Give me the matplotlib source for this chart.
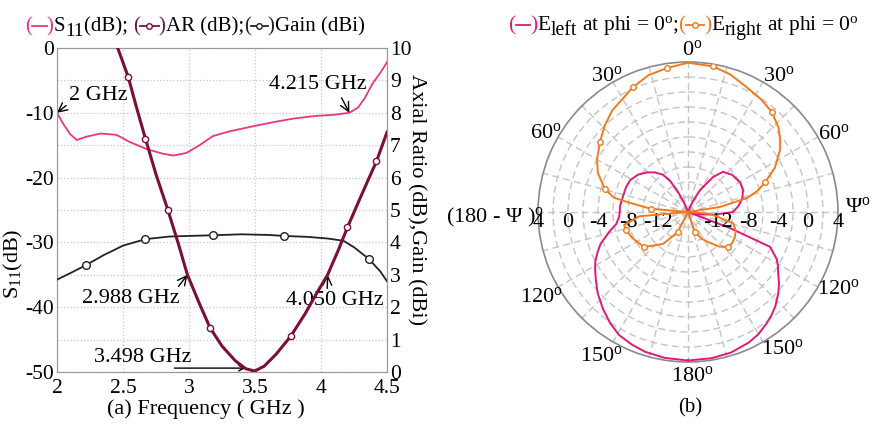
import numpy as np
import matplotlib
matplotlib.use("Agg")
import matplotlib.pyplot as plt
from matplotlib.lines import Line2D
from matplotlib.transforms import offset_copy

plt.rcParams['font.family'] = ['Liberation Serif', 'DejaVu Serif']
plt.rcParams['mathtext.fontset'] = 'custom'
plt.rcParams['mathtext.rm'] = 'Liberation Serif'
plt.rcParams['mathtext.it'] = 'Liberation Serif:italic'
plt.rcParams['axes.unicode_minus'] = False

# ---- (a) S11 / AR / gain versus frequency ----
f_s11 = [2.0, 2.05, 2.1, 2.15, 2.22, 2.33, 2.45, 2.55, 2.68, 2.8, 2.88, 2.98, 3.08,
         3.18, 3.3, 3.48, 3.65, 3.79, 3.95, 4.1, 4.215, 4.28, 4.33, 4.39, 4.45, 4.5]
s11 = [-10.0, -11.8, -13.3, -14.2, -13.7, -13.2, -13.4, -14.5, -15.6, -16.3, -16.6, -16.2, -15.0,
       -13.6, -12.9, -12.1, -11.4, -10.9, -10.5, -10.3, -10.0, -9.2, -7.8, -5.5, -3.8, -2.2]

f_ar = [2.40, 2.46, 2.54, 2.60, 2.67, 2.75, 2.84, 2.92, 2.988, 3.08, 3.16, 3.25, 3.35,
        3.43, 3.498, 3.57, 3.66, 3.77, 3.88, 3.97, 4.05, 4.13, 4.20, 4.30, 4.42, 4.50]
ar = [10.7, 10.0, 9.1, 8.2, 7.2, 6.1, 5.0, 3.95, 3.0, 2.1, 1.36, 0.8, 0.35,
      0.1, 0.03, 0.18, 0.55, 1.1, 1.8, 2.45, 3.0, 3.75, 4.46, 5.4, 6.5, 7.4]
ar_marks = [2.54, 2.67, 2.84, 3.16, 3.77, 4.20, 4.42]

f_gain = [2.0, 2.1, 2.22, 2.35, 2.5, 2.67, 2.85, 3.0, 3.18, 3.4, 3.6, 3.72, 3.9,
          4.05, 4.17, 4.25, 4.36, 4.45, 4.5]
gain = [2.85, 3.05, 3.3, 3.6, 3.9, 4.1, 4.18, 4.2, 4.22, 4.25, 4.23, 4.2, 4.17,
        4.12, 4.05, 3.85, 3.5, 3.1, 2.8]
gain_marks = [2.22, 2.67, 3.18, 3.72, 4.36]

# ---- (b) radiation patterns at phi = 0 (theta clockwise from top, dB) ----
th_left = [-180, -171, -163, -157, -150.7, -145, -138.8, -132, -126, -122, -118, -114, -110, -104,
           -99.5, -94, -90, -85, -75, -68, -61, -53, -46, -40, -34, -30, -27, -23, -20,
           0, 20, 24, 28.6, 35.5, 41, 50, 61, 68, 75.5, 83, 90, 96, 101, 106, 111, 113,
           118, 121, 124, 128, 132, 137, 141, 145, 150, 155, 163, 171, 180]
e_left = [3.8, 3.7, 3.5, 3.2, 2.8, 2.1, 1.2, 0.2, -0.8, -1.4, -2.0, -2.8, -3.6, -5.2,
          -6.3, -6.8, -6.9, -6.9, -7.1, -7.1, -7.2, -7.7, -8.4, -9.1, -10.0, -11.2, -12.7, -14.5, -16,
          -16, -16, -14.5, -12.7, -10.3, -8.9, -8.3, -8.0, -8.1, -8.5, -9.2, -10.0, -12.5, -14.5, -16, -10.0, -4.1,
          -2.6, -2.0, -1.5, -0.6, 0.2, 1.1, 1.7, 2.2, 2.8, 3.2, 3.6, 3.75, 3.8]

th_right = [-180, -165, -153, -142, -128.5, -115, -106, -101.5, -95, -88, -85, -81, -79, -74.5,
            -66.6, -60, -51.5, -44, -36.7, -23.7, -16, -8.3, 0, 9.7, 17, 25, 33, 40, 47, 52,
            56, 63, 69, 73, 76.7, 81, 86, 95, 104, 111, 118, 125, 131, 138, 145, 153, 161, 170, 180]
e_right = [-16, -16, -13.0, -10.6, -8.5, -7.8, -7.4, -7.3, -9.5, -16, -11, -8.1, -5.9, -4.5,
           -2.9, -2.0, -1.0, 0.0, 0.9, 2.2, 3.0, 3.4, 3.9, 3.7, 3.2, 2.4, 1.9, 1.4, 0.5, -0.4,
           -1.2, -3.0, -5.0, -6.3, -7.9, -11.7, -16, -13, -9.8, -9.2, -8.9, -8.8, -8.9, -9.8, -11, -12.0, -13.2, -16, -16]
right_marks = [-153, -128.5, -106, -85, -74.5, -51.5, -23.7, -8.3, 9.7, 40, 69, 131, 161]

W, H = 878, 424
c_s11 = '#e8387e'
c_ar = '#7a0f3e'
c_gain = '#222222'
c_left = '#e0187a'
c_right = '#f07a1c'
FS = 15.5


def fx(px):
    return px / W


def fy(py):
    return 1 - py / H


def legend_row(fig, x, y, parts, size):
    # lay out "(line)label" pieces one after the other along a baseline
    rend = fig.canvas.get_renderer()
    for part in parts:
        kind, val, col = part[:3]
        if kind in ('t', 's'):
            yy, sz = (y + 5, size * 0.92) if kind == 's' else (y, size)
            t = fig.text(fx(x), fy(yy), val, color=col, fontsize=sz, ha='left', va='baseline')
            x += t.get_window_extent(rend).width
        else:
            w = part[3]
            ln = Line2D([fx(x), fx(x + w / 2), fx(x + w)], [fy(y - 5)] * 3,
                        transform=fig.transFigure, color=col, lw=1.3,
                        marker=val, markevery=[1], markersize=4,
                        markerfacecolor='white', markeredgecolor=col)
            fig.add_artist(ln)
            x += w


fig = plt.figure(figsize=(W / 100, H / 100), dpi=100)

ax = fig.add_axes([fx(57), fy(372), fx(387) - fx(57), fy(48) - fy(372)])
ax2 = ax.twinx()

ax.plot(f_s11, s11, color=c_s11, lw=1.3, zorder=3)
ax2.plot(f_ar, ar, color=c_ar, lw=2.2, marker='o', markersize=4.5,
         markerfacecolor='white', markeredgecolor=c_ar, markeredgewidth=1.0,
         markevery=[f_ar.index(v) for v in ar_marks], zorder=4)
ax2.plot(f_gain, gain, color=c_gain, lw=1.3, marker='o', markersize=5.5,
         markerfacecolor='white', markeredgecolor=c_gain, markeredgewidth=1.0,
         markevery=[f_gain.index(v) for v in gain_marks], zorder=3)

ax.set_xlim(2, 4.5)
ax.set_ylim(-50, 0)
ax2.set_ylim(0, 10)
ax.set_xticks([2, 2.5, 3, 3.5, 4, 4.5])
ax.set_xticklabels(['2', '2.5', '3', '3.5', '4', '4.5'])
ax.set_yticks(np.arange(-50, 1, 10))
ax.set_yticks(np.arange(-45, 0, 10), minor=True)
ax2.set_yticks(np.arange(0, 11, 1))
ax.grid(True, which='both', color='#c8c8c8', linestyle=':', lw=0.9)
ax.tick_params(which='both', length=0, labelsize=FS, pad=2)
ax.tick_params(axis='x', pad=5)
ax2.tick_params(length=0, labelsize=FS, pad=2)
for a in (ax, ax2):
    for sp in a.spines.values():
        sp.set_color('#9a9a9a')

# annotations on the S11 curve
ax.annotate('2 GHz', xy=(2.0, -10), xytext=(2.09, -7.3), fontsize=16, ha='left', va='center',
            arrowprops=dict(arrowstyle='->', color='k', lw=1, relpos=(0.05, 0.2), shrinkA=0, shrinkB=0))
ax.annotate('4.215 GHz', xy=(4.215, -10), xytext=(3.977, -5.6), fontsize=16, ha='center', va='center',
            arrowprops=dict(arrowstyle='->', color='k', lw=1, relpos=(0.72, 0.0), shrinkA=1, shrinkB=0))
# annotations on the AR curve
ax2.annotate('2.988 GHz', xy=(2.988, 3.0), xytext=(2.56, 2.26), fontsize=16, ha='center', va='center',
             arrowprops=dict(arrowstyle='->', color='k', lw=1, relpos=(0.95, 0.9), shrinkA=0, shrinkB=0))
ax2.annotate('4.050 GHz', xy=(4.05, 3.0), xytext=(4.106, 2.2), fontsize=16, ha='center', va='center',
             arrowprops=dict(arrowstyle='->', color='k', lw=1, relpos=(0.42, 1.0), shrinkA=0, shrinkB=0))
ax2.text(2.65, 0.46, '3.498 GHz', fontsize=16, ha='center', va='center')
ax2.annotate('', xy=(3.43, 0.12), xytext=(2.89, 0.12),
             arrowprops=dict(arrowstyle='->', color='k', lw=1, shrinkA=0, shrinkB=0))

fig.text(fx(13), fy(264), 'S$_{11}$(dB)', rotation=90, fontsize=16, ha='center', va='center')
fig.text(fx(416), fy(200), 'Axial Ratio (dB),Gain (dBi)', rotation=270, fontsize=16,
         ha='center', va='center')
fig.text(fx(206), fy(409), '(a) Frequency ( GHz )', fontsize=16, ha='center', va='center')

legend_row(fig, 25, 31, [
    ('t', '(', c_s11), ('l', 'None', c_s11, 15), ('t', ')', c_s11),
    ('t', 'S', 'k'), ('s', '11', 'k'), ('t', '(dB); ', 'k'),
    ('t', '(', c_ar), ('l', 'o', c_ar, 19), ('t', ')', c_ar), ('t', 'AR (dB);', 'k'),
    ('t', '(', c_gain), ('l', 'o', c_gain, 17), ('t', ')', c_gain), ('t', 'Gain (dBi)', 'k'),
], 15)

# ---- (b) polar pattern ----
pax = fig.add_axes([fx(538), fy(362), fx(838) - fx(538), fy(62) - fy(362)], projection='polar')
pax.set_theta_zero_location('N')
pax.set_theta_direction(-1)
pax.plot(np.deg2rad(th_left), e_left, color=c_left, lw=1.4, zorder=3)
pax.plot(np.deg2rad(th_right), e_right, color=c_right, lw=1.4, marker='o', markersize=4,
         markerfacecolor='white', markeredgecolor=c_right, markeredgewidth=1.0,
         markevery=[th_right.index(v) for v in right_marks], zorder=4)
pax.set_ylim(-16, 4)
pax.set_yticks(np.arange(-14, 4, 2))
pax.set_yticklabels([])
pax.set_xticks(np.deg2rad(np.arange(0, 360, 15)))
pax.set_xticklabels([])
pax.grid(True, color='#c4c4c4', linestyle=(0, (5, 3)), lw=1.0)
pax.spines['polar'].set_color('#8a8a8a')
pax.spines['polar'].set_linewidth(1.2)

# radial scale written along the horizontal axis on both sides
r_labels = [4, 0, -4, -8, -12]
below = offset_copy(pax.transData, fig=fig, y=-1, units='points')
for r in r_labels:
    for side in (90, -90):
        pax.text(np.deg2rad(side), r, str(r), fontsize=16, ha='center', va='top',
                 transform=below, clip_on=False)

deg = '$^{\\rm o}$'
ang_labels = [
    ('0' + deg, 692, 50, 'center'), ('30' + deg, 607, 76, 'center'), ('30' + deg, 779, 76, 'center'),
    ('60' + deg, 546, 133, 'center'), ('60' + deg, 834, 134, 'center'),
    ('(180 - \u03a8 )' + deg, 446, 217, 'left'), ('\u03a8' + deg, 858, 207, 'center'),
    ('120' + deg, 541, 297, 'center'), ('120' + deg, 838, 289, 'center'),
    ('150' + deg, 601, 356, 'center'), ('150' + deg, 782, 349, 'center'),
    ('180' + deg, 692, 376, 'center'),
]
for s, x, y, ha in ang_labels:
    fig.text(fx(x), fy(y), s, fontsize=16, ha=ha, va='center')
fig.text(fx(690), fy(408), '(b)', fontsize=15, ha='center', va='center')

legend_row(fig, 509, 30, [
    ('t', '(', c_left), ('l', 'None', c_left, 14), ('t', ')', c_left),
    ('t', 'E', 'k'), ('s', 'left', 'k'), ('t', ' at phi = 0' + deg + ';', 'k'),
    ('t', '(', c_right), ('l', 'o', c_right, 18), ('t', ')', c_right),
    ('t', 'E', 'k'), ('s', 'right', 'k'), ('t', ' at phi = 0' + deg, 'k'),
], 15.5)

fig.savefig('out.png', dpi=100)
